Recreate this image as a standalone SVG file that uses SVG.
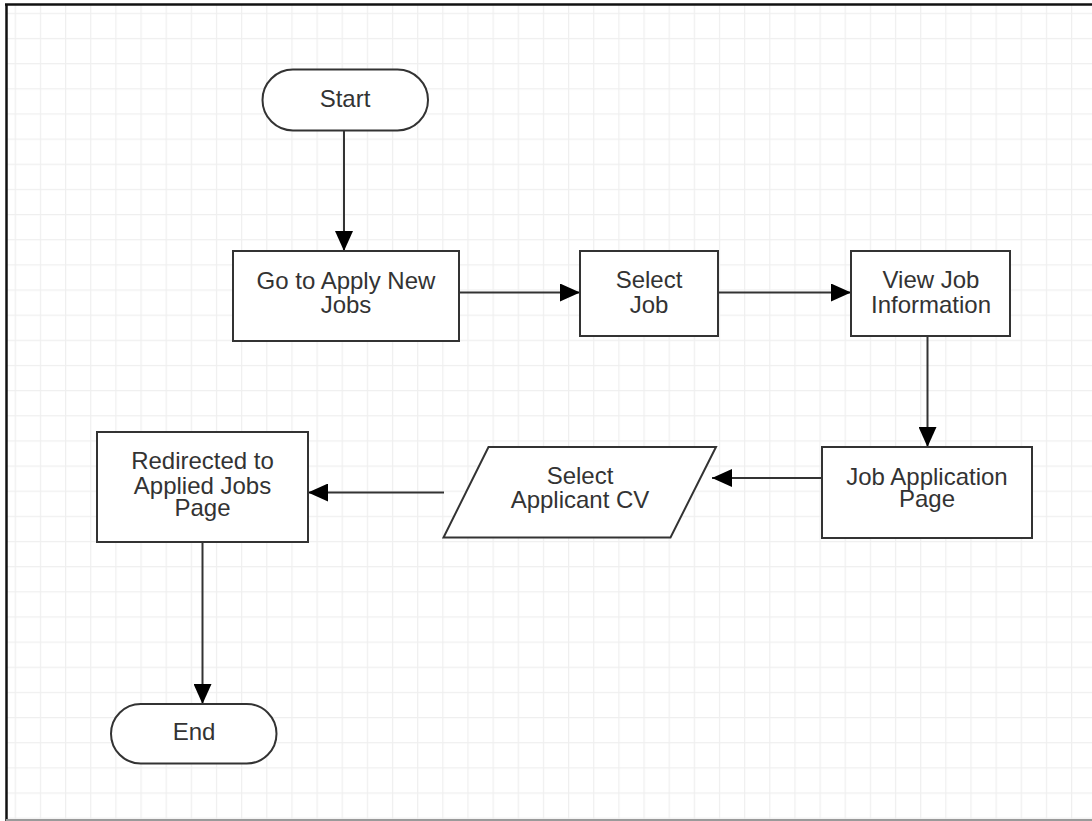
<svg xmlns="http://www.w3.org/2000/svg" width="1092" height="821" viewBox="0 0 1092 821">
<style>
.shape{fill:#ffffff;stroke:#333333;stroke-width:2}
.conn{fill:none;stroke:#333333;stroke-width:2}
.lbl{font-family:"Liberation Sans",Arial,sans-serif;font-size:24px;fill:#333333;text-anchor:middle}
</style>
<defs>
<pattern id="grid" x="14.7" y="12.8" width="25.15" height="25.15" patternUnits="userSpaceOnUse">
<path d="M0 0V25.15M0 0H25.15" fill="none" stroke="#efefef" stroke-width="2.4"/>
</pattern>
<marker id="arr" viewBox="0 0 20 18" refX="20" refY="9" markerWidth="20" markerHeight="18" markerUnits="userSpaceOnUse" orient="auto">
<path d="M0 0L20 9L0 18Z" fill="#000000"/>
</marker>
</defs>
<rect x="0" y="0" width="1092" height="821" fill="#ffffff"/>
<rect x="6" y="4" width="1086" height="817" fill="url(#grid)"/>
<line x1="6.5" y1="4" x2="6.5" y2="821" stroke="#111111" stroke-width="2.5"/>
<line x1="5" y1="4.5" x2="1092" y2="4.5" stroke="#111111" stroke-width="2.5"/>
<line x1="6" y1="820" x2="1092" y2="820" stroke="#9a9a9a" stroke-width="2"/>
<g id="connectors">
<line class="conn" x1="344" y1="131" x2="344" y2="251" marker-end="url(#arr)"/>
<line class="conn" x1="459" y1="292.5" x2="580" y2="292.5" marker-end="url(#arr)"/>
<line class="conn" x1="718" y1="292.5" x2="851" y2="292.5" marker-end="url(#arr)"/>
<line class="conn" x1="927.5" y1="336" x2="927.5" y2="447" marker-end="url(#arr)"/>
<line class="conn" x1="822" y1="478" x2="712" y2="478" marker-end="url(#arr)"/>
<line class="conn" x1="444" y1="492.5" x2="308" y2="492.5" marker-end="url(#arr)"/>
<line class="conn" x1="202.5" y1="542" x2="202.5" y2="704" marker-end="url(#arr)"/>
</g>
<g id="start">
<rect class="shape" x="262.5" y="69.5" width="165.5" height="61" rx="30.5"/>
<text class="lbl" x="345" y="106.5">Start</text>
</g>
<g id="apply">
<rect class="shape" x="233" y="251" width="226" height="90"/>
<text class="lbl" x="346" y="289">Go to Apply New</text>
<text class="lbl" x="346" y="312.5">Jobs</text>
</g>
<g id="select-job">
<rect class="shape" x="580" y="251" width="138" height="85"/>
<text class="lbl" x="649" y="287.5">Select</text>
<text class="lbl" x="649" y="312.5">Job</text>
</g>
<g id="view-job">
<rect class="shape" x="851" y="251" width="159" height="85"/>
<text class="lbl" x="931" y="287.5">View Job</text>
<text class="lbl" x="931" y="312.5">Information</text>
</g>
<g id="job-application">
<rect class="shape" x="822" y="447" width="210" height="91"/>
<text class="lbl" x="927" y="484.5">Job Application</text>
<text class="lbl" x="927" y="506.5">Page</text>
</g>
<g id="select-cv">
<polygon class="shape" points="488.5,447 716,447 670.5,537.5 443.5,537.5"/>
<text class="lbl" x="580" y="483.5">Select</text>
<text class="lbl" x="580" y="507.5">Applicant CV</text>
</g>
<g id="redirected">
<rect class="shape" x="97" y="432" width="211" height="110"/>
<text class="lbl" x="202.5" y="468.5">Redirected to</text>
<text class="lbl" x="202.5" y="493.5">Applied Jobs</text>
<text class="lbl" x="202.5" y="516">Page</text>
</g>
<g id="end">
<rect class="shape" x="111" y="704" width="165.5" height="59.5" rx="29.75"/>
<text class="lbl" x="194" y="740">End</text>
</g>
</svg>
